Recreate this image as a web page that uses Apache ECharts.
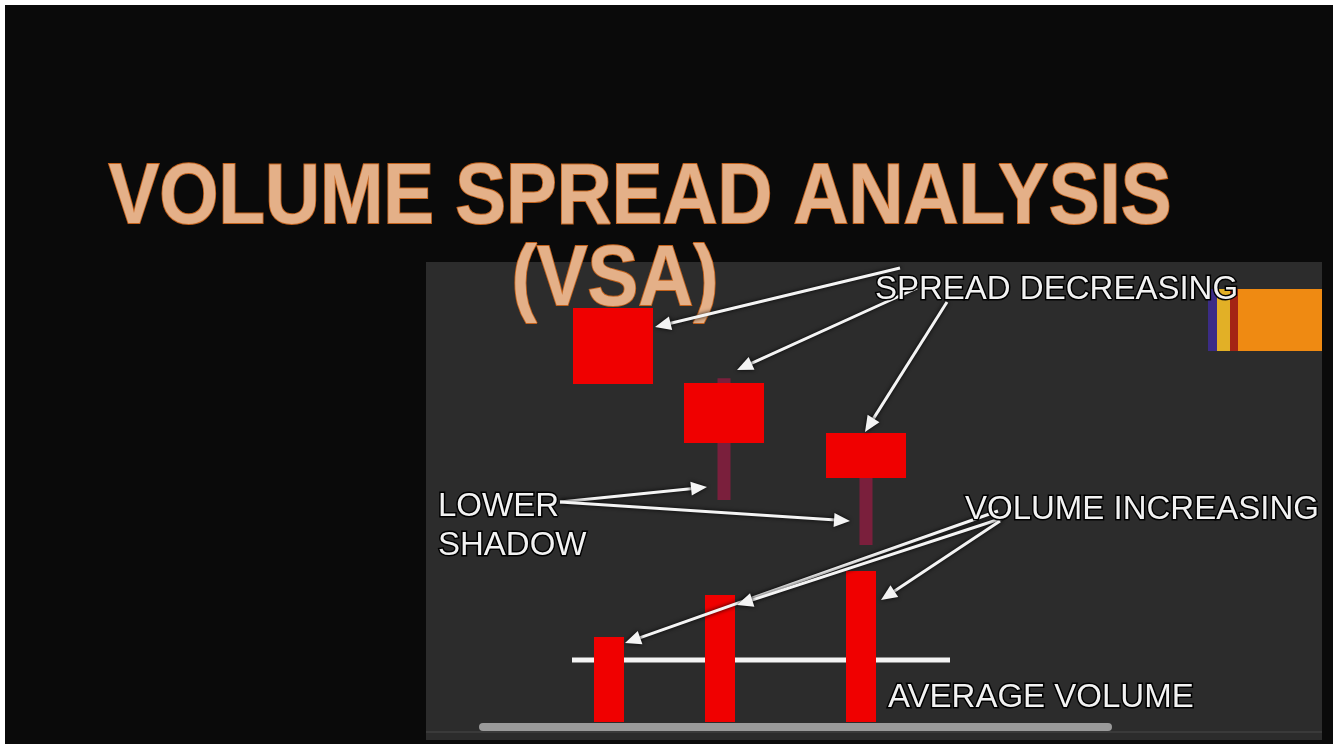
<!DOCTYPE html>
<html>
<head>
<meta charset="utf-8">
<script src="https://cdn.jsdelivr.net/npm/echarts@6/dist/echarts.min.js"></script>
<style>
html,body{margin:0;padding:0;background:#0a0a0a;}
#chart{width:1333px;height:745px;}
</style>
</head>
<body>
<div id="chart"></div>
<script>
// ---- data ----
const candleLabels = ['Bar 1', 'Bar 2', 'Bar 3'];
const candleX = [2.6, 4.82, 7.66];
const candleOpen = [84.6, 59.4, 42.6];
const candleClose = [59.1, 39.3, 27.5];
const candleHigh = [84.6, 61.0, 42.6];
const candleLow = [59.1, 20.1, 5.0];
const volumeX = [2.52, 4.74, 7.56];
const volumeValues = [52.5, 78.4, 93.2];
const averageVolume = 38.3;
const averageSpan = [1.78, 9.34];

const titleLine1 = 'VOLUME SPREAD ANALYSIS';
const titleLine2 = '(VSA)';
const noteSpread = 'SPREAD DECREASING';
const noteShadow = ['LOWER', 'SHADOW'];
const noteVolume = 'VOLUME INCREASING';
const noteAverage = 'AVERAGE VOLUME';

// ---- helpers ----
const candleData = candleX.map((x, i) => [x, candleOpen[i], candleClose[i], candleLow[i], candleHigh[i], candleLabels[i]]);
const volumeData = volumeX.map((x, i) => [x, volumeValues[i], candleLabels[i]]);
const avgData = averageSpan.map(x => [x, averageVolume]);

function arrow(x1, y1, x2, y2) {
  const dx = x2 - x1, dy = y2 - y1;
  const len = Math.sqrt(dx * dx + dy * dy);
  const ux = dx / len, uy = dy / len;
  const hl = 16, hw = 7;
  const bx = x2 - ux * hl, by = y2 - uy * hl;
  const px = -uy, py = ux;
  const shadow = {shadowColor: 'rgba(0,0,0,0.95)', shadowBlur: 4};
  return [
    {type: 'line', z: 100, shape: {x1: x1, y1: y1, x2: bx + ux * 2, y2: by + uy * 2},
      style: Object.assign({stroke: '#f4f4f4', lineWidth: 3}, shadow)},
    {type: 'polygon', z: 100, shape: {points: [[x2, y2], [bx + px * hw, by + py * hw], [bx - px * hw, by - py * hw]]},
      style: Object.assign({fill: '#f4f4f4'}, shadow)}
  ];
}

function label(text, x, y) {
  return {type: 'text', z: 101, x: x, y: y,
    style: {text: text, font: '33px "Liberation Sans", Arial, sans-serif', fill: '#f2f2f2',
      textAlign: 'left', textVerticalAlign: 'middle', stroke: '#000', lineWidth: 3,
      shadowColor: 'rgba(0,0,0,0.9)', shadowBlur: 4, shadowOffsetX: 1, shadowOffsetY: 2}};
}

function titleText(text, x, y) {
  return {type: 'text', z: 90, x: x, y: y, scaleX: 0.885,
    style: {text: text, font: 'bold 86px "Liberation Sans", Arial, sans-serif', fill: '#e4b088',
      textAlign: 'center', textVerticalAlign: 'middle', stroke: '#c4621c', lineWidth: 2,
      shadowColor: 'rgba(230,120,30,0.6)', shadowBlur: 6}};
}

const graphics = [
  // frame / panel
  {type: 'rect', z: -10, shape: {x: 0, y: 0, width: 1333, height: 5}, style: {fill: '#ffffff'}},
  {type: 'rect', z: -10, shape: {x: 0, y: 0, width: 5, height: 745}, style: {fill: '#ffffff'}},
  {type: 'rect', z: -10, shape: {x: 0, y: 744, width: 1333, height: 1}, style: {fill: '#ffffff'}},
  {type: 'rect', z: -10, shape: {x: 426, y: 262, width: 896, height: 478}, style: {fill: '#2c2c2c'}},
  {type: 'rect', z: -9, shape: {x: 426, y: 731, width: 896, height: 2}, style: {fill: '#3a3a3a'}},
  // orange fragment top right
  {type: 'rect', z: 1, shape: {x: 1208, y: 289, width: 9, height: 62}, style: {fill: '#3b2c86'}},
  {type: 'rect', z: 1, shape: {x: 1217, y: 289, width: 13, height: 62}, style: {fill: '#e2b026'}},
  {type: 'rect', z: 1, shape: {x: 1230, y: 289, width: 8, height: 62}, style: {fill: '#a42414'}},
  {type: 'rect', z: 1, shape: {x: 1238, y: 289, width: 84, height: 62}, style: {fill: '#ef8a12'}},
  // title
  titleText(titleLine1, 640, 199),
  titleText(titleLine2, 615, 281),
  // notes
  label(noteSpread, 875, 290),
  label(noteShadow[0], 438, 507),
  label(noteShadow[1], 438, 546),
  label(noteVolume, 965, 510),
  label(noteAverage, 888, 698)
].concat(
  arrow(900, 268, 655, 327),
  arrow(917, 288, 737, 370),
  arrow(947, 302, 865, 432),
  arrow(560, 502, 707, 487),
  arrow(560, 502, 850, 521),
  arrow(998, 511, 625, 643),
  arrow(1003, 518, 737, 605),
  arrow(1000, 521, 881, 600)
);

const chart = echarts.init(document.getElementById('chart'), null, {renderer: 'canvas'});
chart.setOption({
  backgroundColor: '#0a0a0a',
  animation: false,
  grid: [
    {left: 483, right: 225, top: 262, height: 298},
    {left: 483, right: 225, top: 560, height: 162}
  ],
  xAxis: [
    {type: 'value', gridIndex: 0, min: 0, max: 12.5, show: false},
    {type: 'value', gridIndex: 1, min: 0, max: 12.5, offset: 5,
      axisLine: {show: true, onZero: false, lineStyle: {color: '#9a9a9a', width: 8}},
      axisTick: {show: false}, axisLabel: {show: false}, splitLine: {show: false}}
  ],
  yAxis: [
    {type: 'value', gridIndex: 0, min: 0, max: 100, show: false},
    {type: 'value', gridIndex: 1, min: 0, max: 100, show: false}
  ],
  series: [
    {
      name: 'Average volume', type: 'line', xAxisIndex: 1, yAxisIndex: 1, z: 3,
      data: avgData, symbol: 'none',
      lineStyle: {color: '#f4f4f4', width: 5}
    },
    {
      name: 'Volume', type: 'custom', xAxisIndex: 1, yAxisIndex: 1, z: 5,
      data: volumeData, encode: {x: 0, y: 1},
      renderItem: function (params, api) {
        const top = api.coord([api.value(0), api.value(1)]);
        const base = api.coord([api.value(0), 0]);
        const w = api.size([0.6, 0])[0];
        return {type: 'rect', shape: {x: top[0] - w / 2, y: top[1], width: w, height: base[1] - top[1]},
          style: {fill: '#f00000'}};
      }
    },
    {
      name: 'Price', type: 'custom', xAxisIndex: 0, yAxisIndex: 0, z: 5,
      data: candleData, encode: {x: 0, y: [1, 2, 3, 4]},
      renderItem: function (params, api) {
        const x = api.value(0);
        const pO = api.coord([x, api.value(1)]);
        const pC = api.coord([x, api.value(2)]);
        const pL = api.coord([x, api.value(3)]);
        const pH = api.coord([x, api.value(4)]);
        const w = api.size([1.6, 0])[0];
        const top = Math.min(pO[1], pC[1]);
        const bottom = Math.max(pO[1], pC[1]);
        const ww = 13;
        return {type: 'group', children: [
          {type: 'rect', shape: {x: pH[0] - ww / 2, y: pH[1], width: ww, height: pL[1] - pH[1]},
            style: {fill: '#7a1f3c'}},
          {type: 'rect', shape: {x: pO[0] - w / 2, y: top, width: w, height: bottom - top},
            style: {fill: '#f00000'}}
        ]};
      }
    }
  ],
  graphic: graphics
});
</script>
</body>
</html>
